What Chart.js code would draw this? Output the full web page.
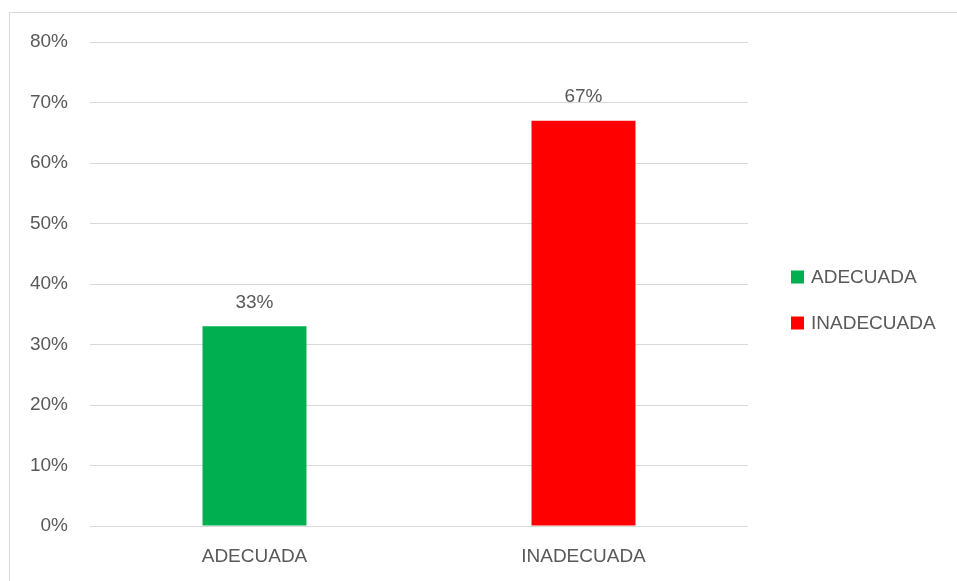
<!DOCTYPE html>
<html>
<head>
<meta charset="utf-8">
<script src="https://cdn.jsdelivr.net/npm/chart.js@4.4.0/dist/chart.umd.min.js"></script>
<style>
  html, body { margin: 0; padding: 0; background: #fff; }
  #wrap {
    position: absolute; left: 9px; top: 12px;
    width: 947px; height: 568px;
    border-left: 1px solid #d9d9d9; border-top: 1px solid #d9d9d9;
  }
</style>
</head>
<body>
<div id="wrap"><canvas id="chart"></canvas></div>
<script>
const categories = ['ADECUADA', 'INADECUADA'];
const values = [33, 67];
const barColors = ['#00b050', '#ff0000'];
const yTicks = [0, 10, 20, 30, 40, 50, 60, 70, 80];

const textColor = '#595959';
const fontFamily = '"Liberation Sans", Arial, sans-serif';
const fontSize = 19;

// etiquetas encima de las barras
const valueLabels = {
    id: 'valueLabels',
    afterDatasetsDraw(chart) {
        const ctx = chart.ctx;
        const meta = chart.getDatasetMeta(0);
        ctx.save();
        ctx.font = fontSize + 'px ' + fontFamily;
        ctx.fillStyle = textColor;
        ctx.textAlign = 'center';
        ctx.textBaseline = 'middle';
        meta.data.forEach((bar, i) => {
            ctx.fillText(values[i] + '%', bar.x, bar.y - 24);
        });
        ctx.restore();
    }
};

// leyenda a la derecha del área del gráfico
const sideLegend = {
    id: 'sideLegend',
    afterDraw(chart) {
        const ctx = chart.ctx;
        const x = chart.chartArea.right + 43;
        const mid = chart.height / 2 + 3;
        const gap = 46;
        ctx.save();
        ctx.font = fontSize + 'px ' + fontFamily;
        ctx.textBaseline = 'middle';
        ctx.textAlign = 'left';
        categories.forEach((c, i) => {
            const y = mid + (i - (categories.length - 1) / 2) * gap;
            ctx.fillStyle = barColors[i];
            ctx.fillRect(x, y - 6.5, 13, 13);
            ctx.fillStyle = textColor;
            ctx.fillText(c, x + 20, y + 1);
        });
        ctx.restore();
    }
};

new Chart(document.getElementById('chart'), {
    type: 'bar',
    data: {
        labels: categories,
        datasets: [{
            label: 'Serie',
            data: values,
            backgroundColor: barColors,
            categoryPercentage: 1,
            barPercentage: 0.316
        }]
    },
    options: {
        responsive: true,
        maintainAspectRatio: false,
        animation: false,
        layout: { padding: { top: 29, right: 209, bottom: 0, left: 0 } },
        scales: {
            y: {
                min: 0,
                max: 80,
                afterBuildTicks(axis) {
                    axis.ticks = yTicks.map(v => ({ value: v }));
                },
                afterFit(axis) {
                    axis.width = 80;
                    axis.paddingTop = 0;
                    axis.paddingBottom = 0;
                },
                ticks: {
                    callback: v => v + '%',
                    color: textColor,
                    font: { family: fontFamily, size: fontSize },
                    padding: 22
                },
                grid: { color: '#d9d9d9', lineWidth: 1, drawTicks: false },
                border: { display: false }
            },
            x: {
                afterFit(axis) {
                    axis.height = 55;
                },
                ticks: {
                    color: textColor,
                    font: { family: fontFamily, size: fontSize },
                    padding: 19
                },
                grid: { display: false, drawTicks: false },
                border: { display: false }
            }
        },
        plugins: {
            tooltip: { enabled: false },
            legend: { display: false }
        }
    },
    plugins: [valueLabels, sideLegend]
});
</script>
</body>
</html>
